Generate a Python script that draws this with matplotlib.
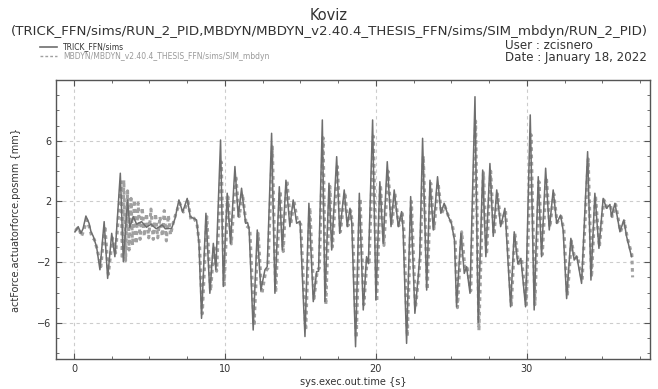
import matplotlib
matplotlib.use("Agg")
import matplotlib.pyplot as plt
from matplotlib.lines import Line2D
from matplotlib.ticker import MultipleLocator, FixedLocator

# TRICK_FFN/sims (solid)
TRICK_T = [0.07, 0.28, 0.46, 0.6, 0.79, 1.0, 1.13, 1.28, 1.5, 1.72, 2.0, 2.23, 2.5, 2.71,
           3.07, 3.27, 3.55, 3.7, 3.93, 4.15, 4.48, 4.8, 5.1, 5.45, 5.85, 6.05, 6.47, 6.7,
           6.95, 7.2, 7.5, 7.7, 7.9, 8.12, 8.28, 8.45, 8.74, 9.0, 9.23, 9.4, 9.71, 9.89,
           10.15, 10.37, 10.66, 10.88, 11.1, 11.37, 11.5, 11.6, 11.87, 12.14, 12.38, 12.65,
           12.8, 13.09, 13.31, 13.6, 13.8, 14.04, 14.3, 14.52, 14.75, 14.97, 15.3, 15.56,
           15.85, 16.07, 16.2, 16.45, 16.62, 16.89, 17.07, 17.4, 17.6, 17.9, 18.1, 18.28,
           18.4, 18.65, 18.9, 19.16, 19.38, 19.5, 19.78, 20.0, 20.26, 20.48, 20.75, 21.0,
           21.21, 21.48, 21.7, 21.8, 22.03, 22.3, 22.58, 22.8, 22.9, 23.09, 23.36, 23.58,
           23.8, 24.08, 24.3, 24.52, 24.8, 25.0, 25.2, 25.34, 25.63, 25.85, 26.0, 26.23,
           26.56, 26.77, 27.07, 27.28, 27.55, 27.77, 28.0, 28.26, 28.54, 28.6, 28.92, 29.16,
           29.4, 29.6, 29.91, 30.22, 30.48, 30.75, 30.97, 31.24, 31.48, 31.74, 31.97, 32.23,
           32.4, 32.63, 32.91, 33.13, 33.3, 33.62, 34.02, 34.24, 34.5, 34.77, 35.05, 35.27,
           35.5, 35.6, 35.83, 36.16, 36.42, 36.6, 36.93]
TRICK_V = [0.0, 0.34, -0.1, 0.2, 1.04, 0.56, 0.0, -0.3, -1.0, -2.5, 0.67, -3.07, -0.1, -1.64,
           3.86, -1.97, 2.1, 0.3, 1.0, 0.5, 0.67, 0.3, 0.5, 0.2, 0.45, 0.2, 0.23, 0.9,
           2.1, 1.3, 2.2, 1.0, 0.9, 0.78, -0.76, -5.7, 1.22, -4.05, -0.76, -2.5, 6.05, -3.6,
           2.54, -0.76, 4.3, 1.0, 2.87, 0.56, 0.6, 0.2, -6.47, 0.12, -3.84, -2.5,
           -2.3, 6.49, -4.05, 2.97, -1.2, 3.4, 0.34, 2.1, 0.56, 0.7, -6.9, 1.88,
           -4.6, -2.63, -2.6, 7.37, -4.6, 3.2, -1.2, 4.95, -0.1, 2.76, 0.34, 1.55,
           0.6, -7.57, 2.54, -5.15, -1.64, -2.1, 7.37, -4.5, 3.3, -0.76, 4.62, 0.34,
           2.76, 0.34, 1.33, 0.1, -7.35, 2.32, -5.37, -2.96, -1.6, 6.16, -3.84, 3.4,
           0.12, 3.63, 1.22, 1.88, 1.0, 0.56, -0.54, -4.94, -0.1, -2.74, -2.3, -4.05,
           8.9, -6.0, 4.07, -1.64, 4.5, -0.3, 2.76, 0.34, 1.55, 0.6, -4.94, 0.0,
           -2.1, -1.75, -4.94, 7.7, -5.15, 3.63, -1.64, 4.19, 0.12, 2.76, 0.56, 1.1,
           0.1, -4.4, -0.43, -1.86, -1.6, -3.4, 5.28, -3.18, 2.54, -1.09, 2.2, 1.55,
           1.8, 1.0, 1.88, 0.0, 0.78, -0.3, -1.64]

# MBDYN/MBDYN_v2.40.4_THESIS_FFN/sims/SIM_mbdyn (dashed)
MBDYN_T = [0.1, 0.3, 0.5, 0.65, 0.85, 1.05, 1.2, 1.35, 1.55, 1.78, 2.05, 2.28, 2.55, 2.76,
           3.12, 3.2, 3.3, 3.42, 3.55, 3.65, 3.78, 3.88, 4.0, 4.12, 4.25, 4.38, 4.52, 4.66,
           4.8, 4.95, 5.1, 5.25, 5.4, 5.55, 5.7, 5.85, 5.98, 6.12, 6.25, 6.4, 6.55,
           6.75, 7.0, 7.25, 7.55, 7.75, 7.95, 8.15, 8.32, 8.5, 8.8, 9.05, 9.28, 9.45, 9.76,
           9.95, 10.2, 10.42, 10.72, 10.94, 11.16, 11.42, 11.65, 11.93, 12.2, 12.44, 12.7,
           12.85, 13.14, 13.36, 13.66, 13.86, 14.1, 14.36, 14.58, 14.8, 15.02, 15.35, 15.62,
           15.9, 16.12, 16.25, 16.5, 16.68, 16.95, 17.12, 17.45, 17.65, 17.95, 18.15, 18.33,
           18.45, 18.7, 18.95, 19.2, 19.42, 19.55, 19.83, 20.05, 20.3, 20.53, 20.8, 21.05,
           21.26, 21.52, 21.75, 21.85, 22.08, 22.35, 22.62, 22.85, 22.95, 23.14, 23.4, 23.63,
           23.85, 24.12, 24.35, 24.56, 24.85, 25.05, 25.25, 25.4, 25.68, 25.9, 26.05, 26.28,
           26.6, 26.82, 27.12, 27.33, 27.6, 27.82, 28.05, 28.3, 28.58, 28.65, 28.97, 29.2,
           29.45, 29.65, 29.96, 30.27, 30.53, 30.8, 31.02, 31.29, 31.52, 31.78, 32.0, 32.27,
           32.45, 32.68, 32.95, 33.17, 33.35, 33.66, 34.06, 34.28, 34.54, 34.8, 35.1, 35.3,
           35.55, 35.65, 35.88, 36.2, 36.45, 36.65, 36.95, 37.0]
MBDYN_V = [0.1, 0.3, -0.3, 0.1, 0.8, 0.2, -0.4, -0.5, -1.2, -2.3, 0.4, -2.8, -0.4, -1.4,
           3.3, -1.8, 3.4, -1.9, 2.7, -1.2, 2.2, -0.9, 2.1, -0.8, 1.9, -0.5, 1.6, -0.3,
           1.2, -0.4, 1.5, -0.5, 1.2, -0.4, 1.0, -0.3, 1.4, -0.6, 1.1, -0.2, 0.5,
           1.2, 1.9, 1.3, 2.0, 0.8, 0.9, 0.5, -0.9, -5.4, 1.0, -3.9, -0.9, -2.6, 4.6,
           -3.5, 2.3, -0.8, 3.7, 1.0, 2.5, 0.4, 0.2, -6.2, -0.1, -4.1, -2.6,
           -2.4, 5.6, -4.0, 2.7, -1.3, 3.4, 0.5, 2.0, 0.7, 0.5, -6.5, 1.6,
           -4.4, -2.5, -2.4, 6.2, -4.8, 3.0, -1.0, 4.3, 0.0, 2.6, 0.4, 1.4,
           0.5, -7.0, 2.2, -4.8, -1.8, -2.0, 6.3, -4.6, 3.1, -0.9, 4.0, 0.4,
           2.5, 0.4, 1.2, 0.1, -6.9, 2.0, -5.0, -2.8, -1.5, 5.0, -3.8, 3.2,
           0.2, 3.2, 1.2, 1.7, 0.9, 0.5, -0.6, -5.0, 0.0, -2.5, -2.4, -3.9,
           7.3, -6.5, 3.9, -1.5, 4.0, -0.2, 2.5, 0.4, 1.4, 0.5, -4.9, -0.1,
           -2.1, -1.8, -4.8, 6.4, -4.8, 3.3, -1.5, 3.6, 0.3, 2.5, 0.6, 1.0,
           0.1, -4.2, -0.6, -1.8, -1.6, -3.2, 4.8, -3.0, 2.4, -1.0, 2.1, 1.6,
           1.7, 1.0, 1.8, 0.0, 0.7, -0.4, -1.5, -3.0]

YTICKS = [-6, -2, 2, 6]
XTICKS = [0, 10, 20, 30]

SOLID_C = "#6e6e6e"
DASH_C = "#a0a0a0"
TEXT_C = "#333333"

plt.rcParams["font.family"] = ["DejaVu Sans"]

fig = plt.figure(figsize=(6.58, 3.89), dpi=100)
ax = fig.add_axes([0.0851, 0.0771, 0.9027, 0.7172])

# dashed one sits a bit wider underneath, so it shows as a hatched halo like the original
ax.plot(MBDYN_T, MBDYN_V, color=DASH_C, lw=2.2, dashes=(1.2, 1.2), zorder=3)
ax.plot(TRICK_T, TRICK_V, color=SOLID_C, lw=1.1, zorder=4)

ax.set_xlim(-1.19, 38.15)
ax.set_ylim(-8.38, 10.0)
ax.xaxis.set_major_locator(FixedLocator(XTICKS))
ax.xaxis.set_minor_locator(MultipleLocator(2.5))
ax.yaxis.set_major_locator(FixedLocator(YTICKS))
ax.yaxis.set_minor_locator(MultipleLocator(1))
ax.tick_params(which="both", direction="in", top=True, right=True,
               labelsize=7, labelcolor=TEXT_C, color="#555555")
ax.tick_params(which="major", length=4)
ax.tick_params(which="minor", length=2.5)
ax.grid(True, which="major", color="#cccccc", ls=(0, (3, 3)), lw=0.8)
for s in ax.spines.values():
    s.set_color("#555555")
    s.set_linewidth(1.0)

ax.set_xlabel("sys.exec.out.time {s}", fontsize=7, color=TEXT_C, labelpad=2)
ax.set_ylabel("actForce.actuatorforce.posmm {mm}", fontsize=7, color=TEXT_C, labelpad=11)

# header
fig.text(0.5, 0.961, "Koviz", ha="center", va="center", fontsize=10.5, color=TEXT_C)
fig.text(0.5, 0.918,
         "(TRICK_FFN/sims/RUN_2_PID,MBDYN/MBDYN_v2.40.4_THESIS_FFN/sims/SIM_mbdyn/RUN_2_PID)",
         ha="center", va="center", fontsize=9.6, color=TEXT_C)
fig.text(0.767, 0.884, "User : zcisnero", ha="left", va="center", fontsize=8.6, color=TEXT_C)
fig.text(0.767, 0.851, "Date : January 18, 2022", ha="left", va="center", fontsize=8.6, color=TEXT_C)

# legend
fig.add_artist(Line2D([0.061, 0.087], [0.879, 0.879], color=SOLID_C, lw=1.2))
fig.add_artist(Line2D([0.061, 0.087], [0.856, 0.856], color=DASH_C, lw=1.0, dashes=(2, 1.5)))
fig.text(0.096, 0.879, "TRICK_FFN/sims", ha="left", va="center", fontsize=5.5, color=TEXT_C)
fig.text(0.096, 0.856, "MBDYN/MBDYN_v2.40.4_THESIS_FFN/sims/SIM_mbdyn",
         ha="left", va="center", fontsize=5.5, color="#999999")

fig.savefig("out.png", dpi=100)
